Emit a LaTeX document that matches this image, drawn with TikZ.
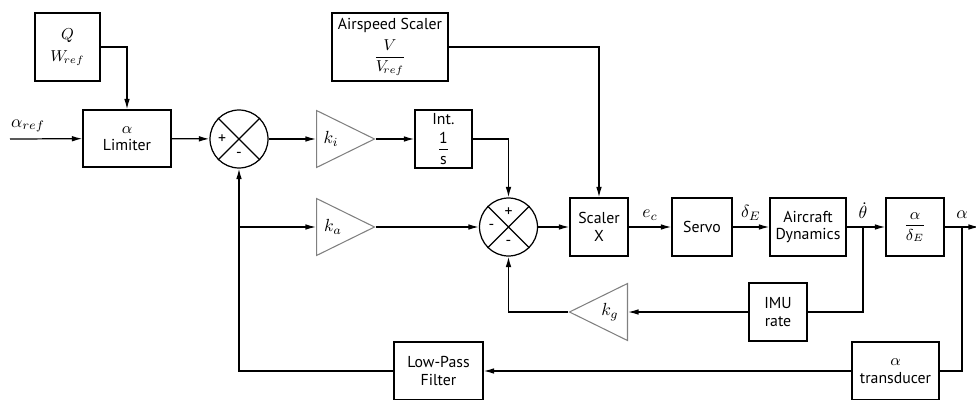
\documentclass[tikz,border=0pt]{standalone}
\usepackage{amsmath,amssymb}
\usepackage{fontspec}
\setsansfont{PT Sans}
\usepackage{tikz}
\usetikzlibrary{shapes.geometric, positioning, calc, arrows.meta}

\begin{document}
\begin{tikzpicture}[x=0.02cm, y=-0.02cm, line width=0.7pt,
        font=\sffamily\fontsize{9}{10}\selectfont,
        blk/.style={draw, align=center, minimum width=1.16cm, minimum height=1.16cm, inner sep=1pt},
        gain/.style={draw=gray, line width=0.6pt, isosceles triangle, isosceles triangle stretches,
                minimum width=1.14cm, minimum height=1.16cm, inner sep=0pt},
        sumj/.style={draw, circle, minimum size=1.16cm, inner sep=0pt},
        sig/.style={font=\sffamily\fontsize{10}{11}\selectfont},
        arr/.style={-{Latex[length=6pt,width=3.2pt]}}]

        % Frame
        \useasboundingbox (0,0) rectangle (976,399);
        \clip (0,0) rectangle (976,399);

        % Blocks
        \node[blk, minimum width=1.3cm, minimum height=1.36cm] (qw) at (67.5,47) {$Q$\\[3pt]$W_{\!ref}$};
        \node[blk, minimum width=1.76cm, minimum height=1.14cm] (lim) at (127,138.5) {$\alpha$\\Limiter};
        \node[blk, minimum width=2.32cm, minimum height=1.36cm] (asp) at (390,47) {Airspeed Scaler\\[3pt]$\dfrac{V}{V_{\!ref}}$};
        \node[blk, minimum width=1.14cm] (int) at (443.5,139) {Int.\\[3pt]$\dfrac{\text{1}}{\text{s}}$};
        \node[blk] (scl) at (599,227) {Scaler\\X};
        \node[blk, minimum width=1.2cm] (srv) at (702,227) {Servo};
        \node[blk, minimum width=1.52cm] (acd) at (808,227) {Aircraft\\Dynamics};
        \node[blk] (ade) at (915,227) {$\dfrac{\alpha}{\delta_E}$};
        \node[blk] (imu) at (778,312) {IMU\\rate};
        \node[blk, minimum width=1.74cm] (trd) at (895.5,371) {$\alpha$\\transducer};
        \node[blk, minimum width=1.78cm] (lpf) at (438.5,371) {Low-Pass\\Filter};

        % Gains
        \node[gain, anchor=west] (ki) at (316,139) {};
        \node[gain, anchor=west] (ka) at (316,227) {};
        \node[gain, shape border rotate=180, anchor=east] (kg) at (628,312) {};
        \node[sig] (kil) at (331,139) {$k_i$};
        \node[sig] (kal) at (333,227) {$k_a$};
        \node[sig] (kgl) at (610,312) {$k_g$};

        % Summing junctions
        \node[sumj] (s1) at (239,139) {};
        \node[sumj] (s2) at (508.5,227) {};
        \draw (s1.north west) -- (s1.south east) (s1.north east) -- (s1.south west);
        \draw (s2.north west) -- (s2.south east) (s2.north east) -- (s2.south west);
        \node (s1p) at ($(s1)+(-17,0)$) {+};
        \node (s1m) at ($(s1)+(0,16)$) {-};
        \node (s2p) at ($(s2)+(0,-15)$) {+};
        \node (s2l) at ($(s2)+(-17,0)$) {-};
        \node (s2m) at ($(s2)+(0,16)$) {-};

        % Forward path
        \coordinate (ar) at (10,139);
        \node[sig] (arl) at (28,126) {$\alpha_{ref}$};
        \draw[arr] (ar) -- (lim);
        \draw[arr] (qw.east) -| (lim.north);
        \draw[arr] (lim) -- (s1);
        \draw[arr] (s1) -- (ki);
        \draw[arr] (ki) -- (int);
        \draw[arr] (int.east) -| (s2.north);
        \draw[arr] (asp.east) -| (scl.north);
        \coordinate (fb) at (s1 |- ka);
        \draw[arr] (fb) -- (ka);
        \draw[arr] (ka) -- (s2);
        \draw[arr] (s2) -- (scl);
        \draw[arr] (scl) -- node[sig, above] (ec) {$e_c$} (srv);
        \draw[arr] (srv) -- node[sig, above] (de) {$\delta_E$} (acd);
        \draw[arr] (acd) -- (ade);
        \coordinate (al) at (962,227);
        \coordinate (out) at (979,227);
        \draw[arr] (ade) -- (out);
        \node[sig, above=1pt] (all) at (al) {$\alpha$};

        % Feedback paths
        \coordinate (th) at (863,227);
        \node[sig, above=1pt] (thl) at (th) {$\dot\theta$};
        \draw (th) |- (imu);
        \draw[arr] (imu) -- (kg);
        \draw[arr] (kg.west) -| (s2.south);
        \draw (al) |- (trd);
        \draw[arr] (trd) -- (lpf);
        \draw[arr] (lpf) -| (s1.south);

\end{tikzpicture}
\end{document}
